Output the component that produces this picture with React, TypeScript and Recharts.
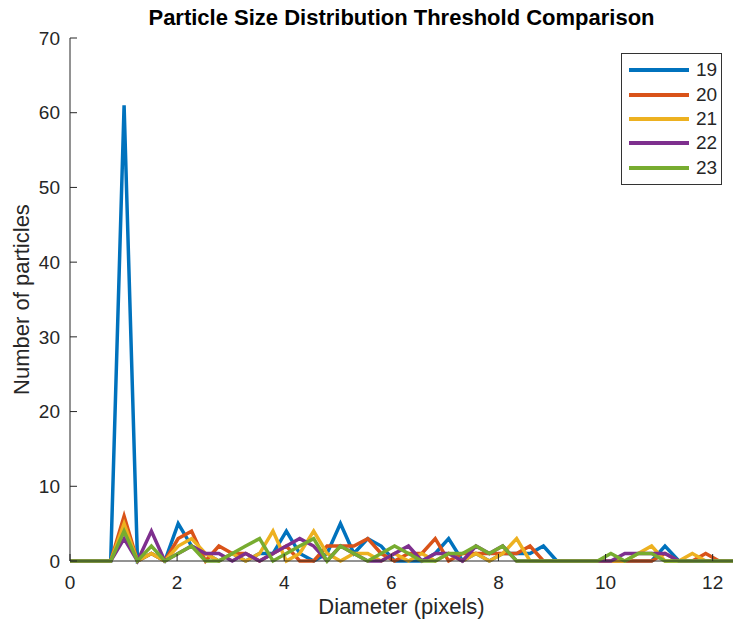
import { LineChart, Line, XAxis, YAxis, Legend } from 'recharts';

// diameter bins (pixels)
const diameter = [
  0, 0.25, 0.51, 0.76, 1.01, 1.26, 1.52, 1.77, 2.02, 2.27,
  2.53, 2.78, 3.03, 3.28, 3.54, 3.79, 4.04, 4.29, 4.55, 4.8,
  5.05, 5.3, 5.56, 5.81, 6.06, 6.32, 6.57, 6.82, 7.07, 7.33,
  7.58, 7.83, 8.08, 8.34, 8.59, 8.84, 9.09, 9.35, 9.6, 9.85,
  10.1, 10.36, 10.61, 10.86, 11.11, 11.37, 11.62, 11.87, 12.12, 12.38,
];

// particle counts per threshold
const t19 = [
  0, 0, 0, 0, 61, 0, 1, 0, 5, 2,
  1, 0, 1, 0, 1, 1, 4, 1, 0, 1,
  5, 1, 3, 2, 0, 0, 0, 1, 3, 0,
  1, 0, 1, 1, 1, 2, 0, 0, 0, 0,
  0, 0, 0, 0, 2, 0, 0, 0, 0, 0,
];
const t20 = [
  0, 0, 0, 0, 6, 0, 1, 0, 3, 4,
  0, 2, 1, 1, 0, 1, 2, 0, 0, 2,
  2, 2, 3, 1, 0, 1, 1, 3, 0, 1,
  1, 1, 1, 1, 2, 0, 0, 0, 0, 0,
  0, 0, 0, 0, 1, 0, 0, 1, 0, 0,
];
const t21 = [
  0, 0, 0, 0, 5, 0, 1, 0, 2, 3,
  1, 0, 1, 0, 1, 4, 0, 1, 4, 1,
  0, 1, 1, 0, 1, 0, 1, 0, 1, 0,
  1, 0, 1, 3, 0, 0, 0, 0, 0, 0,
  0, 0, 1, 2, 0, 0, 1, 0, 0, 0,
];
const t22 = [
  0, 0, 0, 0, 3, 0, 4, 0, 1, 2,
  1, 1, 0, 1, 0, 1, 2, 3, 2, 0,
  2, 1, 0, 0, 1, 2, 0, 1, 1, 0,
  2, 1, 2, 0, 0, 0, 0, 0, 0, 0,
  0, 1, 1, 1, 1, 0, 0, 0, 0, 0,
];
const t23 = [
  0, 0, 0, 0, 4, 0, 2, 0, 1, 2,
  0, 0, 1, 2, 3, 0, 1, 2, 3, 0,
  2, 1, 0, 1, 2, 1, 0, 0, 1, 1,
  2, 1, 2, 0, 0, 0, 0, 0, 0, 0,
  1, 0, 1, 1, 0, 0, 0, 0, 0, 0,
];

const xTicks = [0, 2, 4, 6, 8, 10, 12];
const yTicks = [0, 10, 20, 30, 40, 50, 60, 70];

const series = [
  { key: 't19', name: '19', color: '#0072BD' },
  { key: 't20', name: '20', color: '#D95319' },
  { key: 't21', name: '21', color: '#EDB120' },
  { key: 't22', name: '22', color: '#7E2F8E' },
  { key: 't23', name: '23', color: '#77AC30' },
];

const data = diameter.map((d, i) => ({
  d,
  t19: t19[i],
  t20: t20[i],
  t21: t21[i],
  t22: t22[i],
  t23: t23[i],
}));

const FONT = '"Liberation Sans", Arial, Helvetica, sans-serif';
const AXIS = '#262626';

const LegendBox = () => (
  <div
    style={{
      border: '1px solid #333',
      background: '#fff',
      width: 99,
      height: 126,
      paddingTop: 4,
      boxSizing: 'content-box',
      fontFamily: FONT,
    }}
  >
    {series.map((s) => (
      <div key={s.key} style={{ display: 'flex', alignItems: 'center', height: 24.4 }}>
        <div style={{ marginLeft: 7, width: 60, height: 4, background: s.color }} />
        <span style={{ marginLeft: 7, fontSize: 19, color: AXIS }}>{s.name}</span>
      </div>
    ))}
  </div>
);

export default function App() {
  return (
    <div style={{ position: 'absolute', left: 0, top: 0, width: 733, height: 624, background: '#fff' }}>
      <div
        style={{
          position: 'absolute',
          top: 5,
          left: 70,
          width: 663,
          textAlign: 'center',
          fontFamily: FONT,
          fontWeight: 'bold',
          fontSize: 22,
          lineHeight: '26px',
          color: '#000',
        }}
      >
        Particle Size Distribution Threshold Comparison
      </div>
      <LineChart width={733} height={624} data={data} margin={{ top: 38, right: 0, bottom: 0, left: 0 }}>
        <XAxis
          dataKey="d"
          type="number"
          domain={[0, 12.38]}
          ticks={xTicks}
          allowDataOverflow
          height={63}
          tickSize={-7}
          tickMargin={22}
          stroke={AXIS}
          tick={{ fill: AXIS, fontSize: 19, fontFamily: FONT }}
          label={{
            value: 'Diameter (pixels)',
            position: 'insideBottom',
            offset: 10,
            fill: AXIS,
            fontSize: 22,
            fontFamily: FONT,
          }}
        />
        <YAxis
          type="number"
          domain={[0, 70]}
          ticks={yTicks}
          width={70}
          tickSize={-7}
          tickMargin={17}
          stroke={AXIS}
          tick={{ fill: AXIS, fontSize: 19, fontFamily: FONT }}
          label={{
            content: ({ viewBox }: any) => {
              const cy = viewBox.y + viewBox.height / 2;
              return (
                <text
                  x={21}
                  y={cy}
                  transform={`rotate(-90, 21, ${cy})`}
                  textAnchor="middle"
                  dominantBaseline="central"
                  fill={AXIS}
                  fontSize={22}
                  fontFamily={FONT}
                >
                  Number of particles
                </text>
              );
            },
          }}
        />
        <Legend
          layout="vertical"
          align="center"
          verticalAlign="middle"
          content={() => <LegendBox />}
          wrapperStyle={{ position: 'absolute', left: 621, top: 53, width: 101 }}
        />
        {series.map((s) => (
          <Line
            key={s.key}
            type="linear"
            dataKey={s.key}
            name={s.name}
            stroke={s.color}
            strokeWidth={3.5}
            dot={false}
            activeDot={false}
            isAnimationActive={false}
          />
        ))}
      </LineChart>
    </div>
  );
}
